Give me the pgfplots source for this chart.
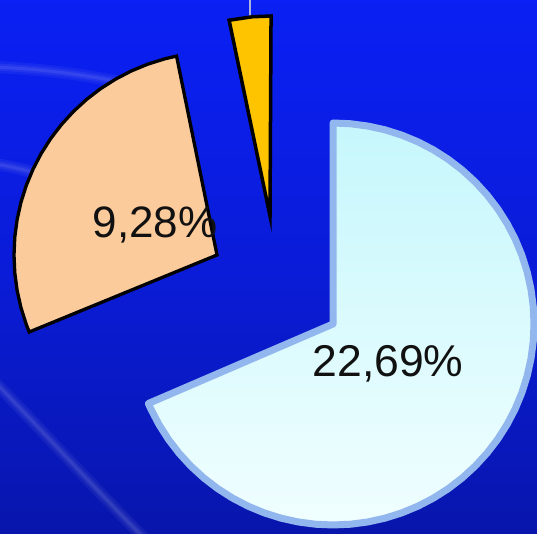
\documentclass[border=0pt]{standalone}
\usepackage{fontspec}
\setmainfont{Liberation Sans}
\usepackage{pgfplots}
\pgfplotsset{compat=1.18}
\definecolor{bgtop}{HTML}{0A20F4}
\definecolor{bgmid}{HTML}{0A1CD8}
\definecolor{bgbot}{HTML}{0816AC}
\definecolor{cyantop}{HTML}{C6F7FC}
\definecolor{cyanbot}{HTML}{F0FEFF}
\definecolor{cyanedge}{HTML}{92B6EE}
\definecolor{peach}{HTML}{FCCB9C}
\definecolor{gold}{HTML}{FFC400}
\definecolor{textdark}{HTML}{111111}
\tikzset{
  streakA/.style={white, line cap=round, opacity=0.05, line width=12pt},
  streakB/.style={white, line cap=round, opacity=0.06, line width=7pt},
  streakC/.style={white, line cap=round, opacity=0.08, line width=3pt},
}
\begin{document}
\begin{tikzpicture}
\begin{axis}[
  x=1pt, y=1pt,
  xmin=0, xmax=537, ymin=0, ymax=534,
  axis line style={draw=none},
  ticks=none,
  axis background/.style={shade, top color=bgtop, bottom color=bgbot, middle color=bgmid},
]
% decorative soft light streaks of the background
\draw[streakA] (axis cs:-5,152) .. controls (axis cs:50,95) and (axis cs:100,40) .. (axis cs:145,-5);
\draw[streakB] (axis cs:-5,152) .. controls (axis cs:50,95) and (axis cs:100,40) .. (axis cs:145,-5);
\draw[streakC] (axis cs:-5,152) .. controls (axis cs:50,95) and (axis cs:100,40) .. (axis cs:145,-5);
\draw[streakA] (axis cs:-5,467) .. controls (axis cs:40,465) and (axis cs:80,460) .. (axis cs:120,452);
\draw[streakB] (axis cs:-5,467) .. controls (axis cs:40,465) and (axis cs:80,460) .. (axis cs:120,452);
\draw[streakC] (axis cs:-5,467) .. controls (axis cs:40,465) and (axis cs:80,460) .. (axis cs:120,452);
\draw[streakA] (axis cs:-5,370) .. controls (axis cs:20,366) and (axis cs:40,360) .. (axis cs:60,354);
\draw[streakB] (axis cs:-5,370) .. controls (axis cs:20,366) and (axis cs:40,360) .. (axis cs:60,354);
\draw[streakC] (axis cs:-5,370) .. controls (axis cs:20,366) and (axis cs:40,360) .. (axis cs:60,354);
% leader line
\addplot[draw={rgb,255:red,170;green,180;blue,220}, line width=1.5pt] coordinates {(250,517) (250,534)};
% 22,69% slice
\addplot[data cs=polar, xshift=333pt, yshift=210pt, draw=cyanedge, line width=7pt, line join=round,
  top color=cyantop, bottom color=cyanbot] coordinates {
  (0,0) (90,201) (85,201) (80,201) (75,201) (70,201) (65,201) (60,201) (55,201) (50,201)
  (45,201) (40,201) (35,201) (30,201) (25,201) (20,201) (15,201) (10,201) (5,201) (0,201)
  (-5,201) (-10,201) (-15,201) (-20,201) (-25,201) (-30,201) (-35,201) (-40,201) (-45,201)
  (-50,201) (-55,201) (-60,201) (-65,201) (-70,201) (-75,201) (-80,201) (-85,201) (-90,201)
  (-95,201) (-100,201) (-105,201) (-110,201) (-115,201) (-120,201) (-125,201) (-130,201)
  (-135,201) (-140,201) (-145,201) (-150,201) (-155,201) (-156.7,201)
} -- cycle;
% 9,28% slice
\addplot[data cs=polar, xshift=217pt, yshift=279pt, draw=black, line width=3.3pt, line join=miter,
  fill=peach] coordinates {
  (0,0) (101.5,203) (105,203) (110,203) (115,203) (120,203) (125,203) (130,203) (135,203)
  (140,203) (145,203) (150,203) (155,203) (160,203) (165,203) (170,203) (175,203) (180,203)
  (185,203) (190,203) (195,203) (200,203) (202.3,203)
} -- cycle;
% small slice
\addplot[data cs=polar, xshift=270pt, yshift=318pt, draw=black, line width=3.5pt, line join=miter,
  fill=gold] coordinates {
  (0,0) (89.7,200) (95,200) (101.8,200)
} -- cycle;
\node[font=\fontsize{44}{52}\selectfont, text=textdark] at (axis cs:155,309) {9,28\%};
\node[font=\fontsize{44.5}{52}\selectfont, text=textdark] at (axis cs:388,170) {22,69\%};
\end{axis}
\end{tikzpicture}
\end{document}
